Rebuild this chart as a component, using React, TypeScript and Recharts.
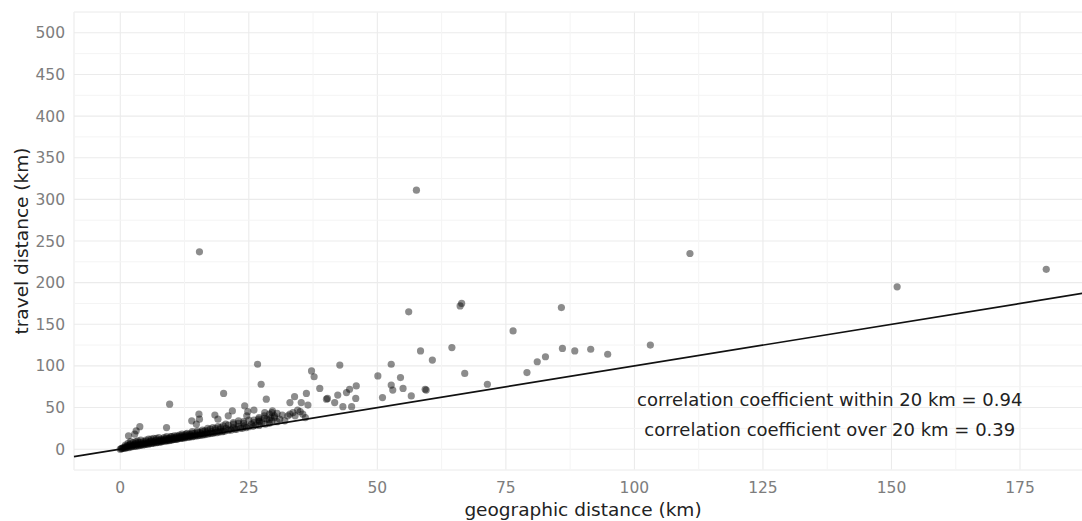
import React from 'react';
import { ScatterChart, Scatter, XAxis, YAxis, CartesianGrid, ReferenceLine, ReferenceDot } from 'recharts';

// [geographic km, travel km]
const denseCluster: [number, number][] = [
  [0, 0], [0.2, 0.5], [0.3, 1], [0.5, 0.8], [0.6, 2], [0.8, 1.5], [1, 1.2], [1, 3], [1.2, 2], [1.4, 4],
  [1.5, 2.5], [1.7, 1.9], [1.8, 5], [2, 3], [2, 6], [2.2, 2.6], [2.4, 4], [2.5, 8], [2.7, 3.5], [2.8, 5.5],
  [3, 3.4], [3, 7], [3.2, 4.5], [3.4, 10], [3.5, 4], [3.6, 6], [3.8, 5], [4, 4.6], [4, 8], [4.2, 6],
  [4.4, 5], [4.5, 9], [4.7, 5.4], [4.8, 7], [5, 5.8], [5, 11], [5.2, 6.5], [5.4, 8], [5.5, 6], [5.7, 7],
  [5.8, 9], [6, 6.8], [6, 12], [6.2, 7.5], [6.4, 9], [6.5, 7], [6.7, 8], [6.8, 10], [7, 7.8], [7, 13],
  [7.2, 8.5], [7.4, 9.6], [7.5, 8], [7.7, 11], [7.8, 9], [8, 8.8], [8, 12], [8.2, 9.5], [8.4, 10], [8.5, 14],
  [8.7, 9.6], [8.8, 11], [9, 9.8], [9, 13], [9.2, 10.5], [9.4, 12], [9.5, 10.2], [9.7, 11], [9.8, 15], [10, 10.8],
  [10, 13], [10.2, 11.5], [10.4, 12], [10.5, 16], [10.7, 11.6], [10.8, 13], [11, 12], [11, 14.5], [11.2, 12.6], [11.4, 13.5],
  [11.5, 17], [11.7, 12.8], [11.8, 14], [12, 13], [12, 16], [12.2, 13.8], [12.4, 15], [12.5, 13.5], [12.7, 14.5], [12.8, 18],
  [13, 14], [13, 16], [13.3, 15], [13.5, 14.5], [13.6, 17], [13.8, 15.5], [14, 15], [14, 19], [14.3, 16], [14.5, 15.5],
  [14.7, 17], [15, 16], [15, 20], [15.3, 17], [15.5, 16.5], [15.8, 18.5], [16, 17], [16, 21], [16.3, 18], [16.5, 17.5],
  [16.8, 19.5], [17, 18], [17, 22], [17.3, 19], [17.6, 18.7], [17.8, 21], [18, 19], [18.3, 20], [18.5, 23], [18.7, 19.8],
  [19, 21], [19.3, 20.5], [19.5, 24], [19.8, 21], [20, 22], [20.3, 21.5], [20.6, 25], [21, 22.5], [21.3, 24], [21.6, 23],
  [22, 26], [22.3, 24], [22.6, 23.8], [23, 27], [23.4, 25], [23.8, 25], [24.2, 28], [24.5, 26], [25, 27], [25.5, 30],
  [25.8, 27.5], [26.3, 29], [27, 28.5], [27.5, 32], [28.2, 30], [29, 31], [29.5, 34], [30.5, 33], [31, 36], [32, 34],
  [1, 5], [1.5, 7], [2, 9], [2.5, 5], [3, 9], [3.5, 8], [4, 11], [4.5, 7], [5, 9], [5.5, 12],
  [6, 10], [6.5, 13], [7, 11], [7.5, 14], [8, 10.5], [8.5, 12], [9, 15], [9.5, 13], [10, 15], [10.5, 14],
  [11, 16], [11.5, 15], [12, 18], [12.5, 17], [13, 19], [13.5, 18], [14, 21], [14.5, 19], [15, 22], [15.5, 20],
  [16, 23], [16.5, 22], [17, 25], [17.5, 24], [18, 26], [18.5, 25], [19, 27], [19.5, 26], [20, 28], [20.5, 30],
  [21, 29], [22, 32], [23, 31], [24, 33], [25, 35], [26, 32], [27, 34], [28, 37], [29, 35], [30, 38],
];

const midRange: [number, number][] = [
  [3.8, 27], [3.1, 22], [1.6, 16], [2.8, 18], [9, 26], [9.6, 54], [13.9, 34], [15.3, 42], [14.8, 30], [15.4, 36],
  [18.4, 41], [19, 36], [20.1, 67], [21, 40], [21.8, 46], [23, 34], [24.2, 52], [24.6, 40], [24.8, 45], [26.9, 36],
  [22, 30], [24, 31], [26, 35], [27, 38], [28, 40], [28.5, 36], [29.5, 44], [30.5, 43], [31.5, 41], [33, 42],
  [34, 40], [35, 45], [34.5, 47], [36, 38], [26, 47], [29, 42], [29.6, 46], [30, 40], [29.3, 38], [27.1, 33],
  [26.7, 102], [27.4, 78], [28.4, 60], [28.1, 44], [33, 56], [33.9, 63], [32.6, 40], [33.6, 44], [35.5, 42], [35.2, 56],
  [36.2, 67], [36.5, 53], [37.2, 94], [37.7, 87], [38.8, 73], [40.1, 60], [40.3, 61], [42.7, 101], [42.3, 65], [41.7, 56],
  [43.3, 51], [44, 68], [44.6, 72], [45.9, 76], [45, 51], [45.8, 61], [50.1, 88], [51, 62], [52.7, 102], [52.7, 77],
  [53, 71], [54.5, 86], [55, 73], [56.6, 64], [58.4, 118], [59.3, 72], [59.5, 71], [60.7, 107], [64.5, 122], [67, 91],
  [71.4, 78], [79.1, 92], [81.1, 105], [82.7, 111], [86, 121], [88.4, 118], [91.5, 120], [94.8, 114], [103.1, 125],
];

const farOutliers: [number, number][] = [
  [15.4, 237], [57.6, 311], [56.1, 165], [66.1, 172], [66.4, 175], [76.4, 142], [85.8, 170],
  [110.8, 235], [151.1, 195], [180.1, 216],
];

const xTicks = [0, 25, 50, 75, 100, 125, 150, 175];
const yTicks = [0, 50, 100, 150, 200, 250, 300, 350, 400, 450, 500];
const xMinor = [12.5, 37.5, 62.5, 87.5, 112.5, 137.5, 162.5];
const yMinor = [-25, 25, 75, 125, 175, 225, 275, 325, 375, 425, 475, 525];

const annotations = [
  { x: 138, y: 59, text: 'correlation coefficient within 20 km = 0.94' },
  { x: 138, y: 23, text: 'correlation coefficient over 20 km = 0.39' },
];

const points = [...denseCluster, ...midRange, ...farOutliers].map(([x, y]) => ({ x, y }));

const Dot = (props: any) => (
  <circle cx={props.cx} cy={props.cy} r={3.6} fill="#000" fillOpacity={0.45} />
);

export default function App() {
  return (
    <div style={{ position: 'absolute', left: 0, top: 0, width: 1082, height: 521, overflow: 'hidden', background: '#fff', fontFamily: '"DejaVu Sans", sans-serif' }}>
      <ScatterChart width={1092} height={521} margin={{ top: 12, right: 0, bottom: 0, left: 0 }}>
        <CartesianGrid stroke="#ebebeb" strokeWidth={1.1} />
        {xMinor.map(v => <ReferenceLine key={'xm' + v} x={v} stroke="#f4f4f4" strokeWidth={1} />)}
        {yMinor.map(v => <ReferenceLine key={'ym' + v} y={v} stroke="#f4f4f4" strokeWidth={1} />)}
        <XAxis
          type="number"
          dataKey="x"
          domain={[-9, 189]}
          ticks={xTicks}
          allowDataOverflow
          axisLine={false}
          tickLine={false}
          tickSize={0}
          tickMargin={12}
          height={51}
          tick={{ fontSize: 15.5, fill: '#7d7d7d' }}
          label={{ value: 'geographic distance (km)', position: 'insideBottom', offset: 5, fontSize: 18.5, fill: '#222' }}
        />
        <YAxis
          type="number"
          dataKey="y"
          domain={[-25, 525]}
          ticks={yTicks}
          allowDataOverflow
          axisLine={false}
          tickLine={false}
          tickSize={0}
          tickMargin={9}
          width={74}
          tick={{ fontSize: 15.5, fill: '#7d7d7d' }}
          label={{ value: 'travel distance (km)', angle: -90, position: 'center', dx: -16, fontSize: 18.5, fill: '#222' }}
        />
        <Scatter data={points} shape={Dot} isAnimationActive={false} />
        <ReferenceLine segment={[{ x: -9, y: -9 }, { x: 189, y: 189 }]} stroke="#111" strokeWidth={1.7} />
        {annotations.map(a => (
          <ReferenceDot
            key={a.text}
            x={a.x}
            y={a.y}
            r={1}
            fill="none"
            stroke="none"
            label={{ value: a.text, position: 'center', fontSize: 18, fill: '#222' }}
          />
        ))}
      </ScatterChart>
    </div>
  );
}
